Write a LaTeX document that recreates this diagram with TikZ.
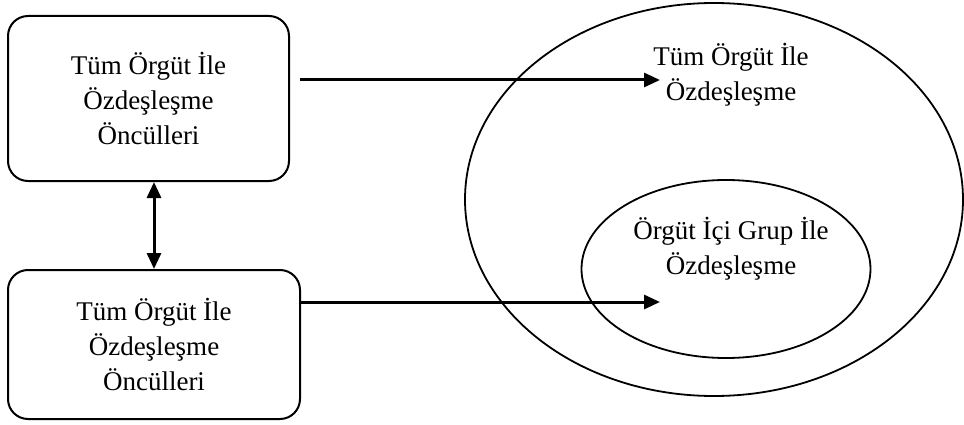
\documentclass[tikz,border=0pt]{standalone}
\usepackage{fontspec}
\setmainfont{Liberation Serif}
\usetikzlibrary{arrows.meta, shapes, positioning}

\begin{document}
\begin{tikzpicture}[x=1pt,y=1pt,
    kutu/.style={draw, line width=2pt, rounded corners=20pt, align=center, font=\fontsize{27}{35}\selectfont},
    halka/.style={draw, ellipse, line width=1.8pt, inner sep=0pt},
    yazi/.style={align=center, inner sep=0pt, font=\fontsize{27}{35}\selectfont},
    ok/.style={line width=3pt, -{Triangle[length=16pt,width=14pt]}},
    ciftok/.style={line width=3pt, {Triangle[length=16pt,width=14pt]}-{Triangle[length=16pt,width=14pt]}}]
    \useasboundingbox (0,0) rectangle (964,424);
    \node[kutu, minimum width=281pt, minimum height=165pt] (kutuUst) at (148.5,325.5) {Tüm Örgüt İle\\Özdeşleşme\\Öncülleri};
    \node[kutu, minimum width=292pt, minimum height=149pt] (kutuAlt) at (154,79.5) {Tüm Örgüt İle\\Özdeşleşme\\Öncülleri};
    \node[halka, minimum width=498pt, minimum height=393pt] (disElips) at (714,224.5) {};
    \node[halka, minimum width=289pt, minimum height=178pt] (icElips) at (726,155) {};
    \node[yazi] (tumOrgut) at (731,349.5) {Tüm Örgüt İle\\Özdeşleşme};
    \node[yazi] (grupIle) at (731,175.5) {Örgüt İçi Grup İle\\Özdeşleşme};
    \coordinate (okUst) at (660,344);
    \coordinate (okAlt) at (660,122);
    \draw[ok] (kutuUst.east |- okUst) ++(10,0) -- (okUst);
    \draw[ok] (kutuAlt.east |- okAlt) -- (okAlt);
    \draw[ciftok] (kutuUst.south -| kutuAlt.north) -- (kutuAlt.north);
\end{tikzpicture}
\end{document}
